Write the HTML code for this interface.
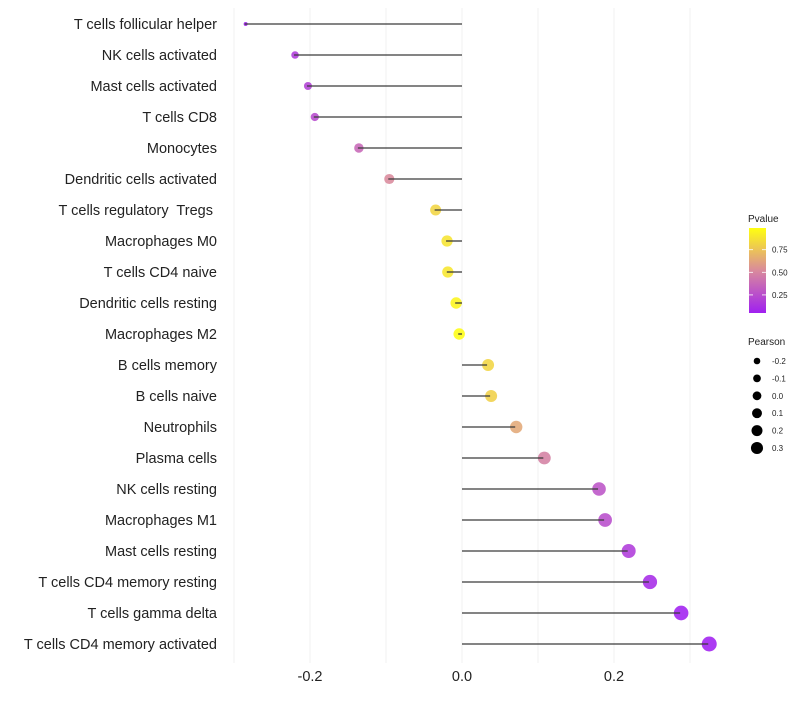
<!DOCTYPE html>
<html><head><meta charset="utf-8"><style>
body{margin:0;background:#fff;font-family:"Liberation Sans",sans-serif;}
</style></head><body>
<svg id="chart" width="800" height="700" xmlns="http://www.w3.org/2000/svg">
<defs>
<linearGradient id="pgrad" x1="0" y1="1" x2="0" y2="0">
<stop offset="0" stop-color="#a020f0"/>
<stop offset="0.5" stop-color="#d98a9c"/>
<stop offset="1" stop-color="#ffff10"/>
</linearGradient>
</defs>
<g id="grid"></g><g id="marks"></g><g id="ylabels"></g><g id="xlabels"></g>
<g>
<text x="748" y="222" font-size="10" fill="#222">Pvalue</text>
<rect x="749" y="228" width="17" height="85" fill="url(#pgrad)"/>
<g id="cbticks"></g>
</g>
<g id="sizeleg">
<text x="748" y="345" font-size="10" fill="#222">Pearson</text>
</g>
</svg>
<script>
const categories=["T cells follicular helper","NK cells activated","Mast cells activated","T cells CD8","Monocytes","Dendritic cells activated","T cells regulatory  Tregs ","Macrophages M0","T cells CD4 naive","Dendritic cells resting","Macrophages M2","B cells memory","B cells naive","Neutrophils","Plasma cells","NK cells resting","Macrophages M1","Mast cells resting","T cells CD4 memory resting","T cells gamma delta","T cells CD4 memory activated"];
const pearson=[-0.286,-0.221,-0.204,-0.195,-0.137,-0.097,-0.036,-0.021,-0.020,-0.009,-0.005,0.033,0.037,0.070,0.107,0.179,0.187,0.218,0.246,0.287,0.324];
const pvalues=[0.04,0.17,0.2,0.24,0.37,0.52,0.82,0.88,0.89,0.95,0.98,0.82,0.8,0.64,0.48,0.28,0.25,0.17,0.1,0.05,0.02];
const xTicks=[-0.2,0,0.2];
const xTickLabels=["-0.2","0.0","0.2"];
const xGrid=[-0.3,-0.2,-0.1,0,0.1,0.2,0.3];
const cbTicks=[0.25,0.5,0.75];
const cbTickLabels=["0.25","0.50","0.75"];
const sizeLegend=[-0.2,-0.1,0.0,0.1,0.2,0.3];
const sizeLegendLabels=["-0.2","-0.1","0.0","0.1","0.2","0.3"];

const NS="http://www.w3.org/2000/svg";
const x=v=>462+v*760;
const y=i=>24+i*31;
const r=v=>2+Math.sqrt(Math.max(0,(v+0.286)/0.61))*5.5;
const rl=v=>3.3+(v+0.2)*5.5;
function lerp(a,b,t){return a.map((c,k)=>Math.round(c+(b[k]-c)*t));}
function col(p){const s=[[160,32,240],[217,138,156],[255,255,16]];const t=Math.max(0,Math.min(1,(p-0.05)/0.94));
 const c=t<0.5?lerp(s[0],s[1],t*2):lerp(s[1],s[2],(t-0.5)*2);return `rgb(${c})`;}
const cbY=p=>313-(p-0.05)/0.94*85;
function mk(tag,attrs,parent){const e=document.createElementNS(NS,tag);for(const k in attrs)e.setAttribute(k,attrs[k]);parent.appendChild(e);return e;}
const grid=document.getElementById('grid'),marks=document.getElementById('marks'),yl=document.getElementById('ylabels'),xl=document.getElementById('xlabels');
xGrid.forEach(v=>{const l=mk('line',{x1:x(v),x2:x(v),y1:8,y2:663,stroke:'#efefef','stroke-width':0.9},grid);

});
xTicks.forEach((v,i)=>{const t=mk('text',{x:x(v),y:681,'font-size':14.5,'text-anchor':'middle',fill:'#222'},xl);t.textContent=xTickLabels[i];

});
categories.forEach((c,i)=>{
 const t=mk('text',{x:217,y:y(i)+5,'font-size':14.5,'text-anchor':'end',fill:'#222',style:'white-space:pre'},yl);t.textContent=c;
 
 
 const d=mk('circle',{cx:x(pearson[i])+1,cy:y(i),r:r(pearson[i]),fill:col(pvalues[i]),'fill-opacity':0.88},marks);
 
 
 const l=mk('line',{x1:x(0),x2:x(pearson[i]),y1:y(i),y2:y(i),stroke:'#3a3a3a','stroke-width':1.3},marks);
 
 
});
const cbt=document.getElementById('cbticks');
cbTicks.forEach((v,i)=>{mk('line',{x1:749,x2:753,y1:cbY(v),y2:cbY(v),stroke:'#fff','stroke-width':0.8},cbt);mk('line',{x1:762,x2:766,y1:cbY(v),y2:cbY(v),stroke:'#fff','stroke-width':0.8},cbt);
 const t=mk('text',{x:772,y:cbY(v)+3,'font-size':8,fill:'#222'},cbt);t.textContent=cbTickLabels[i];
 
 });
const sl=document.getElementById('sizeleg');
sizeLegend.forEach((v,i)=>{const yy=361+i*17.4;
 const c=mk('circle',{cx:757,cy:yy,r:rl(v)},sl);
 
 
 const t=mk('text',{x:772,y:yy+3,'font-size':8,fill:'#222'},sl);t.textContent=sizeLegendLabels[i];
 
 });
</script>
</body></html>
